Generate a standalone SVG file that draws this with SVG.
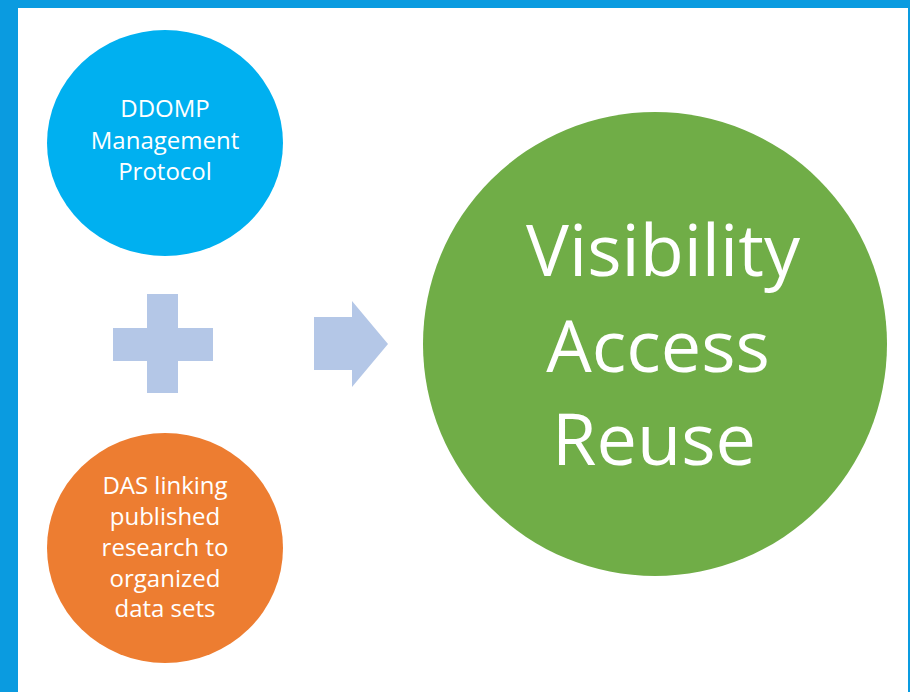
<svg xmlns="http://www.w3.org/2000/svg" width="910" height="692" viewBox="0 0 910 692">
<style>
.t{font-family:"Open Sans","Liberation Sans",sans-serif;fill:#ffffff;text-anchor:middle}
.s{font-size:24px}
.b{font-size:72px}
.shape{fill:#b4c7e7}
</style>
<rect x="0" y="0" width="910" height="692" fill="#0a9be0"/>
<rect x="18" y="8" width="890" height="684" fill="#ffffff"/>
<g id="ddomp">
<ellipse cx="165" cy="143" rx="118" ry="113" fill="#00b0f0"/>
<text class="t s" x="165" y="117">DDOMP</text>
<text class="t s" x="165" y="149">Management</text>
<text class="t s" x="165" y="180">Protocol</text>
</g>
<g id="das">
<ellipse cx="165" cy="548" rx="118" ry="115" fill="#ed7d31"/>
<text class="t s" x="165" y="494">DAS linking</text>
<text class="t s" x="165" y="525">published</text>
<text class="t s" x="165" y="556">research to</text>
<text class="t s" x="165" y="587">organized</text>
<text class="t s" x="165" y="617">data sets</text>
</g>
<g id="plus">
<path class="shape" d="M147,294 H178 V328 H213 V361 H178 V393 H147 V361 H113 V328 H147 Z"/>
</g>
<g id="connectors">
<path class="shape" d="M314,317 H352 V301 L388,344 L352,387 V370 H314 Z"/>
</g>
<g id="outcome">
<circle cx="655" cy="344" r="232" fill="#70ad47"/>
<text class="t b" x="663" y="276">Visibility</text>
<text class="t b" x="658" y="372">Access</text>
<text class="t b" x="654" y="465">Reuse</text>
</g>
</svg>
